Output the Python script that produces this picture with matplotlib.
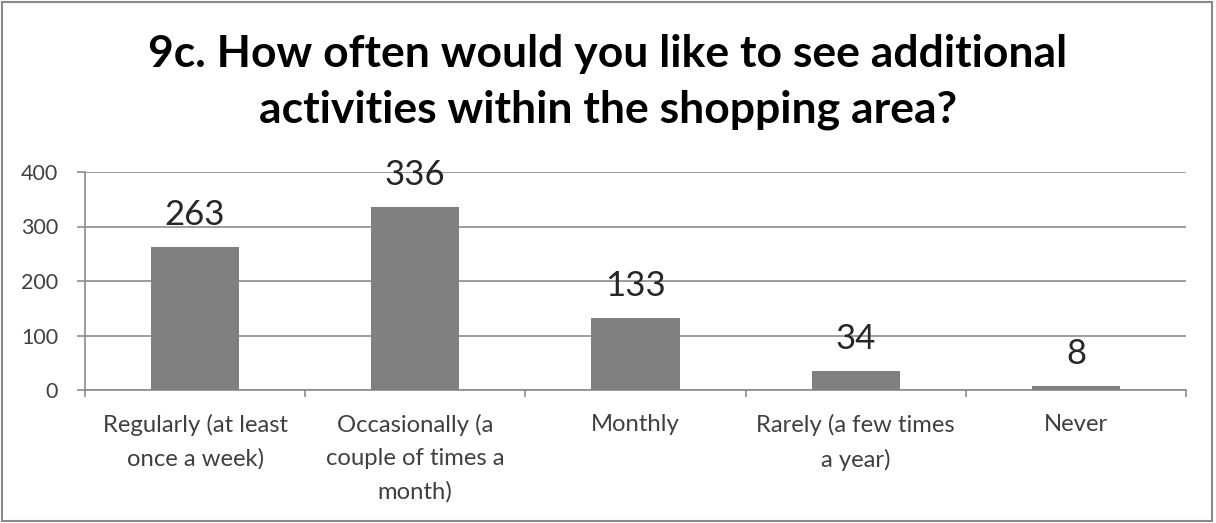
import matplotlib.pyplot as plt
import numpy as np

# 数据
categories = ["Regularly (at least\nonce a week)",
              "Occasionally (a\ncouple of times a\nmonth)",
              "Monthly",
              "Rarely (a few times\na year)",
              "Never"]
counts = [263, 336, 133, 34, 8]
y_ticks = [0, 100, 200, 300, 400]
title_lines = ["9c. How often would you like to see additional",
               "activities within the shopping area?"]

FONT = ['Lato', 'DejaVu Sans']
GRID = '#8c8c8c'
PX = 72 / 100  # 像素转磅

plt.rcParams['font.family'] = FONT

fig = plt.figure(figsize=(12.16, 5.23), dpi=100)
ax = fig.add_axes([85 / 1216, 1 - 390 / 523, 1101 / 1216, 218 / 523])

x = np.arange(len(counts))
ax.bar(x, counts, width=0.4, color='#808080', zorder=3)

# 数据标签，基线在柱顶上方约22像素
for xi, v in zip(x, counts):
    ax.annotate(str(v), (xi, v), xytext=(0, 22 * PX), textcoords='offset points',
                ha='center', va='baseline', fontsize=25, color='#262626', zorder=4)

ax.set_xlim(-0.5, len(counts) - 0.5)
ax.set_ylim(0, 400)
ax.set_yticks(y_ticks)
ax.tick_params(axis='y', labelsize=15.5, labelcolor='#404040', length=8 * PX,
               width=1.2, color=GRID, pad=19 * PX)
ax.yaxis.grid(True, color=GRID, linewidth=1.2, zorder=0)

# 刻度线在类别边界，标签在类别中间
ax.set_xticks(np.arange(-0.5, len(counts)))
ax.set_xticklabels([])
ax.tick_params(axis='x', length=7 * PX, color=GRID, width=1.2)
for xi, lab in zip(x, categories):
    ax.text(xi, -24 / 218, lab, transform=ax.get_xaxis_transform(), ha='center', va='top',
            fontsize=17.2, color='#404040', linespacing=1.7)

for s in ['top', 'right']:
    ax.spines[s].set_visible(False)
for s in ['left', 'bottom']:
    ax.spines[s].set_color(GRID)
    ax.spines[s].set_linewidth(1.2)

for line, base_y in zip(title_lines, [67, 122]):
    fig.text(0.5, 1 - base_y / 523, line, ha='center', va='baseline', fontsize=32,
             fontweight='bold', color='black')

# 外边框
fig.patches.append(plt.Rectangle((0.002, 0.003), 0.995, 0.994, transform=fig.transFigure,
                                 fill=False, edgecolor='#8a8a8a', linewidth=1.5))

fig.savefig('out.png', dpi=100)
